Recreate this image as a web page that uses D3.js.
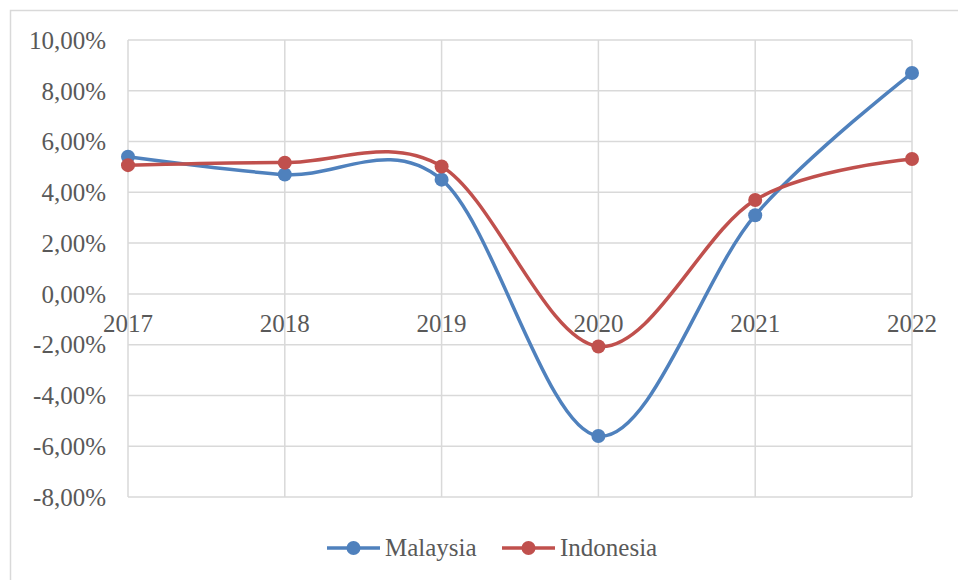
<!DOCTYPE html>
<html>
<head>
<meta charset="utf-8">
<style type="text/css">
	body { margin: 0; background: #fff; }
	.grid line { stroke: #d9d9d9; stroke-width: 1.5; }
	.tick-label { font-family: "Liberation Serif", serif; font-size: 25px; fill: #595959; }
	.series-line { fill: none; stroke-width: 3.5; }
</style>
</head>
<body>
<div class="vis-growth"></div>
<script src="https://d3js.org/d3.v7.min.js"></script>
<script>

	// Data //
	// ---- //
	const years = ["2017", "2018", "2019", "2020", "2021", "2022"];
	const malaysia = [5.4, 4.7, 4.5, -5.6, 3.1, 8.7];
	const indonesia = [5.07, 5.17, 5.02, -2.07, 3.70, 5.31];
	const yTicks = [-8, -6, -4, -2, 0, 2, 4, 6, 8, 10];
	const seriesNames = ["Malaysia", "Indonesia"];
	const seriesColors = ["#4f81bd", "#c0504d"];

	// Setup //
	// ----- //
	let W = 958, H = 580;
	let margin = {top: 40, right: 46, bottom: 83, left: 128},
		width = W - margin.left - margin.right,
		height = H - margin.top - margin.bottom;

	let svg = d3.select(".vis-growth")
		.append("svg")
			.attr("width", W)
			.attr("height", H);

	// chart frame
	svg.append("rect")
		.attr("x", 10.5).attr("y", 10.5)
		.attr("width", 960).attr("height", 600)
		.style("fill", "none")
		.style("stroke", "#d9d9d9")
		.style("stroke-width", 1.5);

	let g = svg.append("g")
		.attr("transform", "translate(" + margin.left + "," + margin.top + ")");

	let x = d3.scalePoint().domain(years).range([0, width]);
	let y = d3.scaleLinear().domain([-8, 10]).range([height, 0]);

	// Gridlines
	let grid = g.append("g").attr("class", "grid");
	grid.selectAll(".hline")
		.data(yTicks).enter().append("line")
		.attr("x1", 0).attr("x2", width)
		.attr("y1", d => y(d)).attr("y2", d => y(d));
	grid.selectAll(".vline")
		.data(years).enter().append("line")
		.attr("x1", d => x(d)).attr("x2", d => x(d))
		.attr("y1", 0).attr("y2", height);

	// Y labels
	g.selectAll(".ylab")
		.data(yTicks).enter().append("text")
		.attr("class", "tick-label")
		.attr("x", -22)
		.attr("y", d => y(d))
		.attr("dy", "0.35em")
		.style("text-anchor", "end")
		.text(d => d.toFixed(2).replace(".", ",") + "%");

	// X labels (sit below the zero line)
	g.selectAll(".xlab")
		.data(years).enter().append("text")
		.attr("class", "tick-label")
		.attr("x", d => x(d))
		.attr("y", y(0) + 38)
		.style("text-anchor", "middle")
		.text(d => d);

	// Lines and dots
	let valueline = d3.line()
		.x(d => x(d[0]))
		.y(d => y(d[1]))
		.curve(d3.curveCardinal.tension(0));

	[malaysia, indonesia].forEach((vals, i) => {
		let datum = zip(years, vals);
		g.append("path")
			.datum(datum)
			.attr("class", "series-line")
			.style("stroke", seriesColors[i])
			.attr("d", valueline);
		g.selectAll(".dot" + i)
			.data(datum).enter().append("circle")
			.attr("cx", d => x(d[0]))
			.attr("cy", d => y(d[1]))
			.attr("r", 7)
			.style("fill", seriesColors[i]);
	});

	// Legend
	let legendX = [327, 502];
	seriesNames.forEach((name, i) => {
		let lg = svg.append("g").attr("transform", "translate(" + legendX[i] + ",548)");
		lg.append("line")
			.attr("x1", 0).attr("x2", 53)
			.attr("y1", 0).attr("y2", 0)
			.style("stroke", seriesColors[i])
			.style("stroke-width", 3.5);
		lg.append("circle")
			.attr("cx", 26.5).attr("cy", 0).attr("r", 7)
			.style("fill", seriesColors[i]);
		lg.append("text")
			.attr("class", "tick-label")
			.attr("x", 58).attr("y", 0)
			.attr("dy", "0.33em")
			.text(name);
	});

	// Utilities
	function zip(a, b) {
		return a.map((e, i) => [e, b[i]]);
	}
</script>
</body>
</html>
